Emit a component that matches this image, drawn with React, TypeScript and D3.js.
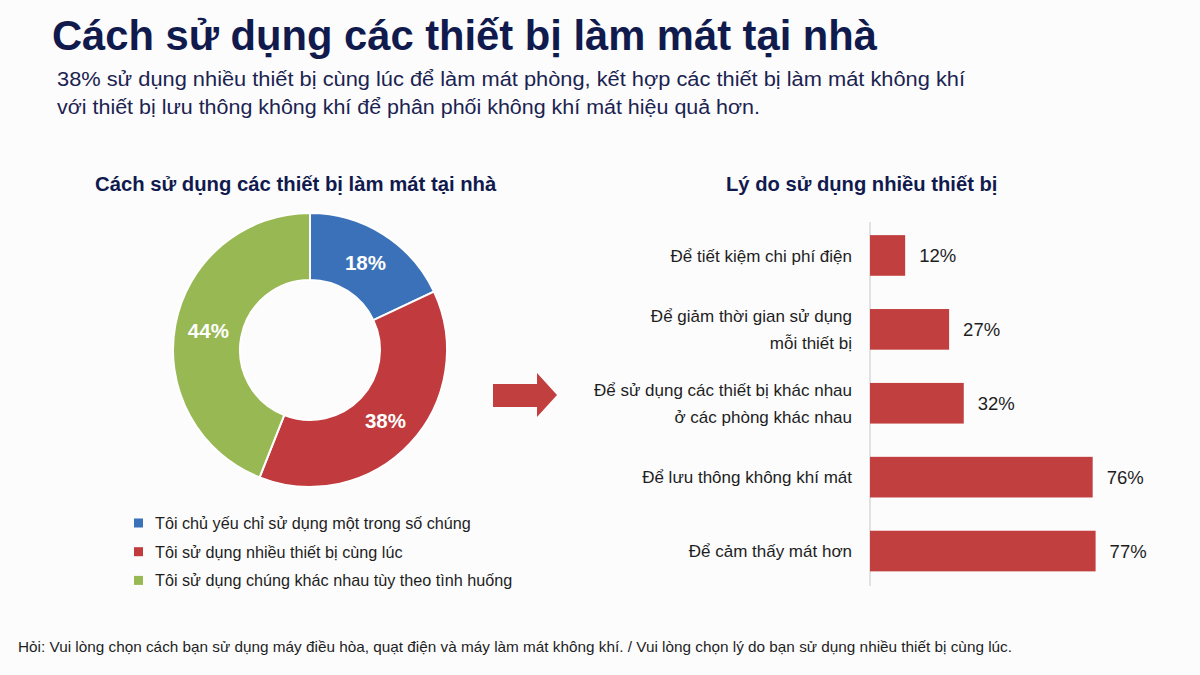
import React, { useEffect } from "react";
import * as d3 from "d3";

// ---- Data ----
const donutCategories = [
  "Tôi chủ yếu chỉ sử dụng một trong số chúng",
  "Tôi sử dụng nhiều thiết bị cùng lúc",
  "Tôi sử dụng chúng khác nhau tùy theo tình huống",
];
const donutValues = [18, 38, 44];

const reasonLabels = [
  ["Để tiết kiệm chi phí điện"],
  ["Để giảm thời gian sử dụng", "mỗi thiết bị"],
  ["Để sử dụng các thiết bị khác nhau", "ở các phòng khác nhau"],
  ["Để lưu thông không khí mát"],
  ["Để cảm thấy mát hơn"],
];
const reasonValues = [12, 27, 32, 76, 77];

const titleText = "Cách sử dụng các thiết bị làm mát tại nhà";
const subtitleLines = [
  "38% sử dụng nhiều thiết bị cùng lúc để làm mát phòng, kết hợp các thiết bị làm mát không khí",
  "với thiết bị lưu thông không khí để phân phối không khí mát hiệu quả hơn.",
];
const leftChartTitle = "Cách sử dụng các thiết bị làm mát tại nhà";
const rightChartTitle = "Lý do sử dụng nhiều thiết bị";
const footnote =
  "Hỏi: Vui lòng chọn cách bạn sử dụng máy điều hòa, quạt điện và máy làm mát không khí. / Vui lòng chọn lý do bạn sử dụng nhiều thiết bị cùng lúc.";

// ---- Styles ----
const W = 1200;
const H = 675;
const FONT = "'Liberation Sans', Arial, Helvetica, sans-serif";
const NAVY = "#111a4d";
const TEXT = "#1e1e1e";
const donutColors = ["#3b71b8", "#c13a3d", "#98b853"];
const BAR = "#c1403f";

export default function App() {
  useEffect(() => {
    document.body.style.margin = "0";
  }, []);

  // Donut
  const cx = 310;
  const cy = 350;
  const outerR = 137;
  const innerR = 70;
  const pie = d3.pie<number>().sort(null).value((d) => d);
  const arcs = pie(donutValues);
  const arcGen = d3.arc<d3.PieArcDatum<number>>().innerRadius(innerR).outerRadius(outerR);

  // Bars
  const x = d3.scaleLinear().domain([0, 100]).range([870, 1163]);
  const y = d3
    .scaleBand<number>()
    .domain(reasonValues.map((_, i) => i))
    .range([218.5, 588])
    .paddingInner(0.45)
    .paddingOuter(0.225);

  return (
    <svg
      width={W}
      height={H}
      viewBox={`0 0 ${W} ${H}`}
      style={{ position: "absolute", left: 0, top: 0, display: "block", fontFamily: FONT }}
    >
      <rect x={0} y={0} width={W} height={H} fill="#fcfcfd" />

      {/* Title */}
      <text x={52} y={50} fontSize={42} fontWeight="bold" fill={NAVY} textLength={825} lengthAdjust="spacingAndGlyphs">
        {titleText}
      </text>
      {subtitleLines.map((t, i) => (
        <text
          key={i}
          x={57}
          y={86 + i * 28}
          fontSize={20}
          fill="#1b2350"
          textLength={i === 0 ? 908 : 703}
          lengthAdjust="spacingAndGlyphs"
        >
          {t}
        </text>
      ))}

      {/* Section titles */}
      <text x={95} y={191} fontSize={20.3} fontWeight="bold" fill={NAVY}>
        {leftChartTitle}
      </text>
      <text x={726} y={191} fontSize={20.2} fontWeight="bold" fill={NAVY}>
        {rightChartTitle}
      </text>

      {/* Donut */}
      <g transform={`translate(${cx},${cy})`}>
        {arcs.map((a, i) => (
          <path key={i} d={arcGen(a) || ""} fill={donutColors[i]} stroke="#ffffff" strokeWidth={2} />
        ))}
        {arcs.map((a, i) => {
          const [lx, ly] = arcGen.centroid(a);
          return (
            <text
              key={"l" + i}
              x={lx}
              y={ly}
              dy="0.36em"
              textAnchor="middle"
              fontSize={20.5}
              fontWeight="bold"
              fill="#ffffff"
            >
              {`${donutValues[i]}%`}
            </text>
          );
        })}
      </g>

      {/* Legend */}
      {donutCategories.map((c, i) => (
        <g key={c} transform={`translate(134,${523 + i * 28.7})`}>
          <rect x={0} y={-4.5} width={9} height={9} fill={donutColors[i]} />
          <text x={21} y={0} dy="0.36em" fontSize={16.2} fill={TEXT}>
            {c}
          </text>
        </g>
      ))}

      {/* Arrow */}
      <polygon
        points="493,384 537,384 537,373 557,395 537,417 537,407 493,407"
        fill={BAR}
      />

      {/* Bar chart */}
      <line x1={870} x2={870} y1={222} y2={586} stroke="#cfcfcf" strokeWidth={1.2} />
      {reasonValues.map((v, i) => {
        const by = y(i) as number;
        const bh = y.bandwidth();
        const mid = by + bh / 2;
        const lines = reasonLabels[i];
        return (
          <g key={i}>
            <rect x={x(0)} y={by} width={x(v) - x(0)} height={bh} fill={BAR} />
            <text x={x(v) + 14} y={mid} dy="0.36em" fontSize={18.5} fill={TEXT}>
              {`${v}%`}
            </text>
            {lines.map((l, j) => (
              <text
                key={j}
                x={852}
                y={mid + (j - (lines.length - 1) / 2) * 27}
                dy="0.36em"
                textAnchor="end"
                fontSize={17}
                fill={TEXT}
              >
                {l}
              </text>
            ))}
          </g>
        );
      })}

      {/* Footnote */}
      <text x={18} y={652} fontSize={15} fill={TEXT} textLength={994} lengthAdjust="spacingAndGlyphs">
        {footnote}
      </text>
    </svg>
  );
}
